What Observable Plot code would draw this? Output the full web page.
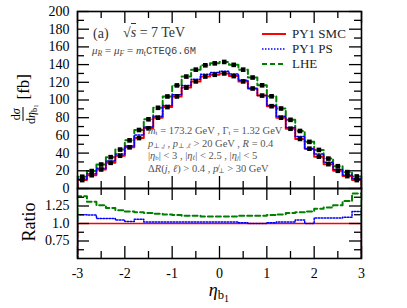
<!DOCTYPE html>
<html>
<head>
<meta charset="utf-8">
<script src="https://cdn.jsdelivr.net/npm/d3@7"></script>
<script src="https://cdn.jsdelivr.net/npm/@observablehq/plot@0.6"></script>
<style>
  html, body { margin: 0; padding: 0; background: #fff; }
  #wrap { position: relative; width: 407px; height: 308px; font-family: "Liberation Serif", "DejaVu Serif", serif; color: #000; overflow: hidden; }
  #wrap svg { display: block; position: absolute; left: 0; }
  #wrap svg text { font-family: "Liberation Serif", "DejaVu Serif", serif; }
  .ann { position: absolute; white-space: nowrap; line-height: 1; }
  sub { font-size: 0.7em; vertical-align: -0.25em; line-height: 0; }
  sub sub { font-size: 0.8em; }
  .blk sub { font-size: 0.65em; vertical-align: -0.15em; }
  .frac { display: inline-flex; flex-direction: column; align-items: center; font-size: 12px; vertical-align: middle; }
  .frac .num { border-bottom: 1px solid #000; padding: 0 1px 1px 1px; }
  .frac .den { padding-top: 1px; }
  .tt { font-family: "Liberation Mono", "DejaVu Sans Mono", monospace; font-size: 0.95em; }
  .leg { position: absolute; left: 262px; display: flex; align-items: center; font-size: 13px; white-space: nowrap; color: #222; }
  .leg svg { position: static !important; margin-right: 6px; }
</style>
</head>
<body>
<div id="wrap"></div>
<script>
// ---- data ----
const binCenters = [-2.9,-2.7,-2.5,-2.3,-2.1,-1.9,-1.7,-1.5,-1.3,-1.1,-0.9,-0.7,-0.5,-0.3,-0.1,
                     0.1, 0.3, 0.5, 0.7, 0.9, 1.1, 1.3, 1.5, 1.7, 1.9, 2.1, 2.3, 2.5, 2.7, 2.9];
const binWidth = 0.2;
const smc = [9.5,15,21.5,29,37,46.5,57,68,80,92,104,114,121,126.5,128.5,
             130,127,121,113,105,93,80,67.5,56,45,36,27.5,20,14,9.5];
const ps  = [10.7,16.8,23,31,38.9,47.9,60.4,69.4,81.6,93.8,106,116.3,123.4,129,131,
             132.6,129.5,122.2,113,105,93.9,81.6,68.9,58.8,45,38.9,29.7,21.6,15.3,11.1];
const lhe = [13.3,19.7,27.1,35.4,44,54.4,66.1,78.2,91.2,104,116.5,126.5,134.3,139.2,141.4,
             143,139.7,134.3,125.4,116.6,104.2,90.4,77.6,65,52.7,43.6,33.8,25.2,18.5,13.6];
const ratioSMC = [1,1,1,1,1,1,1,1,1,1,1,1,1,1,1,1,1,1,1,1,1,1,1,1,1,1,1,1,1,1];
const ratioPS  = [1.125,1.12,1.07,1.07,1.05,1.03,1.06,1.02,1.02,1.02,1.02,1.02,1.02,1.02,1.02,
                  1.02,1.02,1.01,1.0,1.0,1.01,1.02,1.02,1.05,1.0,1.08,1.08,1.08,1.09,1.17];
const ratioLHE = [1.39,1.31,1.26,1.22,1.19,1.17,1.16,1.15,1.14,1.13,1.12,1.11,1.11,1.10,1.10,
                  1.10,1.10,1.11,1.11,1.11,1.12,1.13,1.15,1.16,1.17,1.21,1.23,1.26,1.32,1.43];
const xMajor = [-3,-2,-1,0,1,2,3];
const xMinor = [-2.5,-1.5,-0.5,0.5,1.5,2.5];
const yTopMajor = [0,20,40,60,80,100,120,140,160,180,200];
const yTopMinor = [10,30,50,70,90,110,130,150,170,190];
const rMajor = [0.75,1.0,1.25];
const rMinor = [0.625,0.875,1.125,1.375];
const rLabels = {0.75: "0.75", 1: "1.0", 1.25: "1.25"};

const colors = {smc: "#ff0000", ps: "#0000ff", lhe: "#008000"};

// histogram outline (step) points built from bin data
function steps(vals) {
  const lo = binCenters[0] - binWidth / 2, hi = binCenters[binCenters.length - 1] + binWidth / 2;
  const pts = [{x: lo, y: 0}];
  vals.forEach((v, i) => pts.push({x: binCenters[i] - binWidth / 2, y: v}));
  pts.push({x: hi, y: vals[vals.length - 1]});
  pts.push({x: hi, y: 0});
  return pts;
}
const pts = (vals) => vals.map((v, i) => ({x: binCenters[i], y: v}));

const W = 407, ML = 77, MR = 46;
const FW = W - ML - MR;
const TOP_H = 188, TOP_MT = 11;
const TFH = TOP_H - TOP_MT;
const BOT_H = 120, BOT_MB = 50;
const BFH = BOT_H - BOT_MB;
const LMAJ = 12, LMIN = 7, XMAJ = 12, XMIN = 7;
const tickStyle = {stroke: "black", strokeWidth: 1.3};
const FONT = "'Liberation Serif', 'DejaVu Serif', serif";

const style = {background: "transparent", fontFamily: FONT, fontSize: "14px", color: "black", overflow: "visible"};

const topPlot = Plot.plot({
  width: W, height: TOP_H, marginTop: TOP_MT, marginBottom: 0, marginLeft: ML, marginRight: MR,
  x: {domain: [-3, 3], axis: null},
  y: {domain: [0, 200], axis: null},
  style,
  marks: [
    Plot.line(steps(lhe), {x: "x", y: "y", curve: "step-after", stroke: colors.lhe, strokeWidth: 2, strokeDasharray: "5,3", clip: true}),
    Plot.line(steps(smc), {x: "x", y: "y", curve: "step-after", stroke: colors.smc, strokeWidth: 2, clip: true}),
    Plot.line(steps(ps), {x: "x", y: "y", curve: "step-after", stroke: colors.ps, strokeWidth: 1.5, strokeDasharray: "1.5,1.5", clip: true}),
    Plot.dot(pts(lhe), {x: "x", y: "y", symbol: "square", r: 2.6, fill: "black", stroke: "none"}),
    Plot.dot(pts(smc), {x: "x", y: "y", symbol: "square", r: 2.6, fill: "black", stroke: "none"}),
    Plot.ruleY(yTopMajor, {...tickStyle, insetRight: FW - LMAJ}),
    Plot.ruleY(yTopMinor, {...tickStyle, insetRight: FW - LMIN}),
    Plot.ruleY(yTopMajor, {...tickStyle, insetLeft: FW - LMAJ}),
    Plot.ruleY(yTopMinor, {...tickStyle, insetLeft: FW - LMIN}),
    Plot.ruleX(xMajor, {...tickStyle, insetBottom: TFH - XMAJ}),
    Plot.ruleX(xMinor, {...tickStyle, insetBottom: TFH - XMIN}),
    Plot.ruleX(xMajor, {...tickStyle, insetTop: TFH - XMAJ}),
    Plot.ruleX(xMinor, {...tickStyle, insetTop: TFH - XMIN}),
    Plot.axisY(yTopMajor, {anchor: "left", tickSize: 0, tickPadding: 8, tickFormat: d => String(d), label: null, fontSize: 14}),
    Plot.frame({stroke: "black", strokeWidth: 1.6})
  ]
});

const botPlot = Plot.plot({
  width: W, height: BOT_H, marginTop: 0, marginBottom: BOT_MB, marginLeft: ML, marginRight: MR,
  x: {domain: [-3, 3], axis: null},
  y: {domain: [0.5, 1.5], axis: null},
  style,
  marks: [
    Plot.line(steps(ratioLHE), {x: "x", y: "y", curve: "step-after", stroke: colors.lhe, strokeWidth: 2, strokeDasharray: "5,3", clip: true}),
    Plot.line(steps(ratioSMC), {x: "x", y: "y", curve: "step-after", stroke: colors.smc, strokeWidth: 1.6, clip: true}),
    Plot.line(steps(ratioPS), {x: "x", y: "y", curve: "step-after", stroke: colors.ps, strokeWidth: 1.5, strokeDasharray: "1.5,1.5", clip: true}),
    Plot.ruleY(rMajor, {...tickStyle, insetRight: FW - LMAJ}),
    Plot.ruleY(rMinor, {...tickStyle, insetRight: FW - LMIN}),
    Plot.ruleY(rMajor, {...tickStyle, insetLeft: FW - LMAJ}),
    Plot.ruleY(rMinor, {...tickStyle, insetLeft: FW - LMIN}),
    Plot.ruleX(xMajor, {...tickStyle, insetBottom: BFH - XMAJ}),
    Plot.ruleX(xMinor, {...tickStyle, insetBottom: BFH - XMIN}),
    Plot.ruleX(xMajor, {...tickStyle, insetTop: BFH - XMAJ}),
    Plot.ruleX(xMinor, {...tickStyle, insetTop: BFH - XMIN}),
    Plot.axisY(rMajor, {anchor: "left", tickSize: 0, tickPadding: 8, tickFormat: d => rLabels[d], label: null, fontSize: 14}),
    Plot.axisX(xMajor, {anchor: "bottom", tickSize: 0, tickPadding: 10, tickFormat: d => String(d), label: null, fontSize: 14}),
    Plot.frame({stroke: "black", strokeWidth: 1.6})
  ]
});

const wrap = document.getElementById("wrap");
topPlot.style.top = "0px";
botPlot.style.top = TOP_H + "px";
wrap.appendChild(topPlot);
wrap.appendChild(botPlot);

function ann(html, css, cls) {
  const d = document.createElement("div");
  d.className = "ann" + (cls ? " " + cls : "");
  d.innerHTML = html;
  Object.assign(d.style, css);
  wrap.appendChild(d);
  return d;
}

// axis titles
ann(`<span class="frac"><span class="num">d<i>σ</i></span><span class="den">d<i>η</i><sub>b<sub>1</sub></sub></span></span><span style="font-size:17px;margin-left:5px">[fb]</span>`,
  {left: "23px", top: "99px", transform: "translate(-50%,-50%) rotate(-90deg)", display: "flex", alignItems: "center"});
ann(`Ratio`, {left: "29px", top: "222px", fontSize: "18px", transform: "translate(-50%,-50%) rotate(-90deg)"});
ann(`<i>η</i><sub>b<sub>1</sub></sub>`, {left: "219px", top: "290px", fontSize: "18px", transform: "translate(-50%,-50%)"});

// panel annotations
ann(`(a)`, {left: "93px", top: "27px", fontSize: "14px", color: "#333"});
ann(`√<span style="border-top:1px solid #333;padding-top:1px"><i>s</i></span> = 7 TeV`, {left: "123px", top: "26px", fontSize: "14px", color: "#333"});
ann(`<i>μ</i><sub><i>R</i></sub> = <i>μ</i><sub><i>F</i></sub> = <i>m</i><sub>t</sub><span class="tt">CTEQ6.6M</span>`, {left: "92px", top: "45px", fontSize: "11px", color: "#444"});

const block = [
  `<i>m</i><sub>t</sub> = 173.2 GeV , Γ<sub>t</sub> = 1.32 GeV`,
  `<i>p</i><sub>⊥ ,<i>j</i></sub> , <i>p</i><sub>⊥ ,<i>ℓ</i></sub> &gt; 20 GeV , <i>R</i> = 0.4`,
  `|<i>η</i><sub>b</sub>| &lt; 3 , |<i>η</i><sub><i>ℓ</i></sub>| &lt; 2.5 , |<i>η</i><sub><i>j</i></sub>| &lt; 5`,
  `Δ<i>R</i>(<i>j</i>, <i>ℓ</i>) &gt; 0.4 , <i>p̸</i><sub>⊥</sub> &gt; 30 GeV`
];
block.forEach((t, i) => ann(t, {left: "148px", top: (126 + i * 12.6) + "px", fontSize: "10.5px", height: "11px", color: "#555"}, "blk"));

// legend
const legendItems = [
  {label: "PY1 SMC", color: colors.smc, dash: null, w: 2},
  {label: "PY1 PS", color: colors.ps, dash: "1.5,1.5", w: 1.6},
  {label: "LHE", color: colors.lhe, dash: "5,3", w: 2}
];
legendItems.forEach((it, i) => {
  const d = document.createElement("div");
  d.className = "leg";
  d.style.top = (26 + i * 15) + "px";
  d.innerHTML = `<svg width="24" height="8"><line x1="0" x2="24" y1="4" y2="4" stroke="${it.color}" stroke-width="${it.w}" ${it.dash ? `stroke-dasharray="${it.dash}"` : ""}/></svg><span>${it.label}</span>`;
  wrap.appendChild(d);
});
</script>
</body>
</html>
